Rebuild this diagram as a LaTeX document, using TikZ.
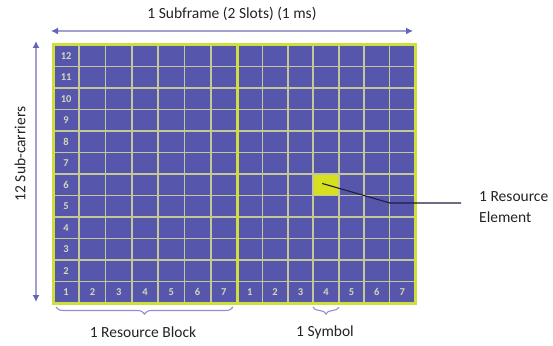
\documentclass[tikz,border=0pt]{standalone}
\usepackage{fontspec}
\setmainfont{Carlito}
\usetikzlibrary{arrows.meta,decorations.pathreplacing}
\definecolor{cellblue}{RGB}{86,86,172}
\definecolor{gridline}{RGB}{196,200,150}
\definecolor{border}{RGB}{208,222,60}
\definecolor{hilite}{RGB}{214,224,30}
\definecolor{numcol}{RGB}{214,214,186}
\definecolor{arrline}{RGB}{160,160,210}
\definecolor{arrhead}{RGB}{100,100,185}
\definecolor{bracecol}{RGB}{150,140,210}
\definecolor{txt}{RGB}{35,35,35}
\definecolor{conn}{RGB}{30,30,60}
\tikzset{
  lbl/.style={text=txt, inner sep=0pt, font=\fontsize{15.5}{18}\selectfont},
  num/.style={text=numcol, inner sep=0pt, font=\fontsize{10.5}{12}\selectfont\bfseries},
  dimarrow/.style={draw=arrline, line width=1.2pt, {Latex[length=7pt,width=7pt,color=arrhead]}-{Latex[length=7pt,width=7pt,color=arrhead]}},
  bracestyle/.style={draw=bracecol, line width=1.1pt, decorate, decoration={brace, mirror, amplitude=7pt}},
}
\begin{document}
\begin{tikzpicture}[x=1pt,y=-1pt]
\useasboundingbox (0,0) rectangle (553,345);
% grid geometry
\def\gl{53}\def\gm{237}\def\gr{415}\def\gt{45}\def\gb{303}
\fill[cellblue] (\gl,\gt) rectangle (\gr,\gb);
% highlighted resource element (slot 2, symbol 4, sub-carrier 6)
\node[fill=hilite, minimum width=25.4pt, minimum height=21.5pt, inner sep=0pt, anchor=north west] (re) at (313.3,174.0) {};
% inner grid lines
\foreach \i in {1,...,6} {
  \draw[gridline, line width=1.7pt] ({\gl+\i*26.29},\gt) -- ({\gl+\i*26.29},\gb);
  \draw[gridline, line width=1.7pt] ({\gm+\i*25.43},\gt) -- ({\gm+\i*25.43},\gb);
}
\foreach \j in {1,...,11} {
  \draw[gridline, line width=1.7pt] (\gl,{\gt+\j*21.5}) -- (\gr,{\gt+\j*21.5});
}
% outer border and slot divider
\draw[border, line width=3pt] (\gl,\gt) rectangle (\gr,\gb);
\draw[border, line width=3pt] (\gm,\gt) -- (\gm,\gb);
% sub-carrier numbers
\foreach \k in {1,...,12} {
  \node[num] (sc\k) at ({\gl+13.1},{\gb-(\k-0.5)*21.5}) {\k};
}
% symbol numbers
\foreach \k in {2,...,7} {
  \node[num] (sa\k) at ({\gl+(\k-0.5)*26.29},{\gb-10.75}) {\k};
}
\foreach \k in {1,...,7} {
  \node[num] (sb\k) at ({\gm+(\k-0.5)*25.43},{\gb-10.75}) {\k};
}
% top dimension
\node[lbl] (subframe) at (232,14) {1 Subframe (2 Slots) (1 ms)};
\coordinate (tl) at (51,31);
\coordinate (tr) at (413,31);
\draw[dimarrow] (tl) -- (tr);
% left dimension
\node[lbl, rotate=90] (subc) at (20,154) {12 Sub-carriers};
\coordinate (lt) at (36,41);
\coordinate (lb) at (36,302);
\draw[dimarrow] (lt) -- (lb);
% braces
\coordinate (b1l) at (56,307);
\coordinate (b1r) at (233,307);
\draw[bracestyle] (b1l) -- (b1r);
\node[lbl] (rb) at (143,332) {1 Resource Block};
\coordinate (b2l) at (313,307);
\coordinate (b2r) at (339,307);
\draw[bracestyle] (b2l) -- (b2r);
\node[lbl] (sym) at (325,332) {1 Symbol};
% resource element label
\node[lbl, anchor=west, align=left, font=\fontsize{15.5}{21}\selectfont] (rel) at (479,207.5) {1 Resource\\Element};
\coordinate (bend) at (390,203);
\coordinate (lend) at (461,203);
\draw[conn, line width=1.1pt] ([xshift=-4pt,yshift=1.5pt]re.center) -- (bend) -- (lend);
\end{tikzpicture}
\end{document}
